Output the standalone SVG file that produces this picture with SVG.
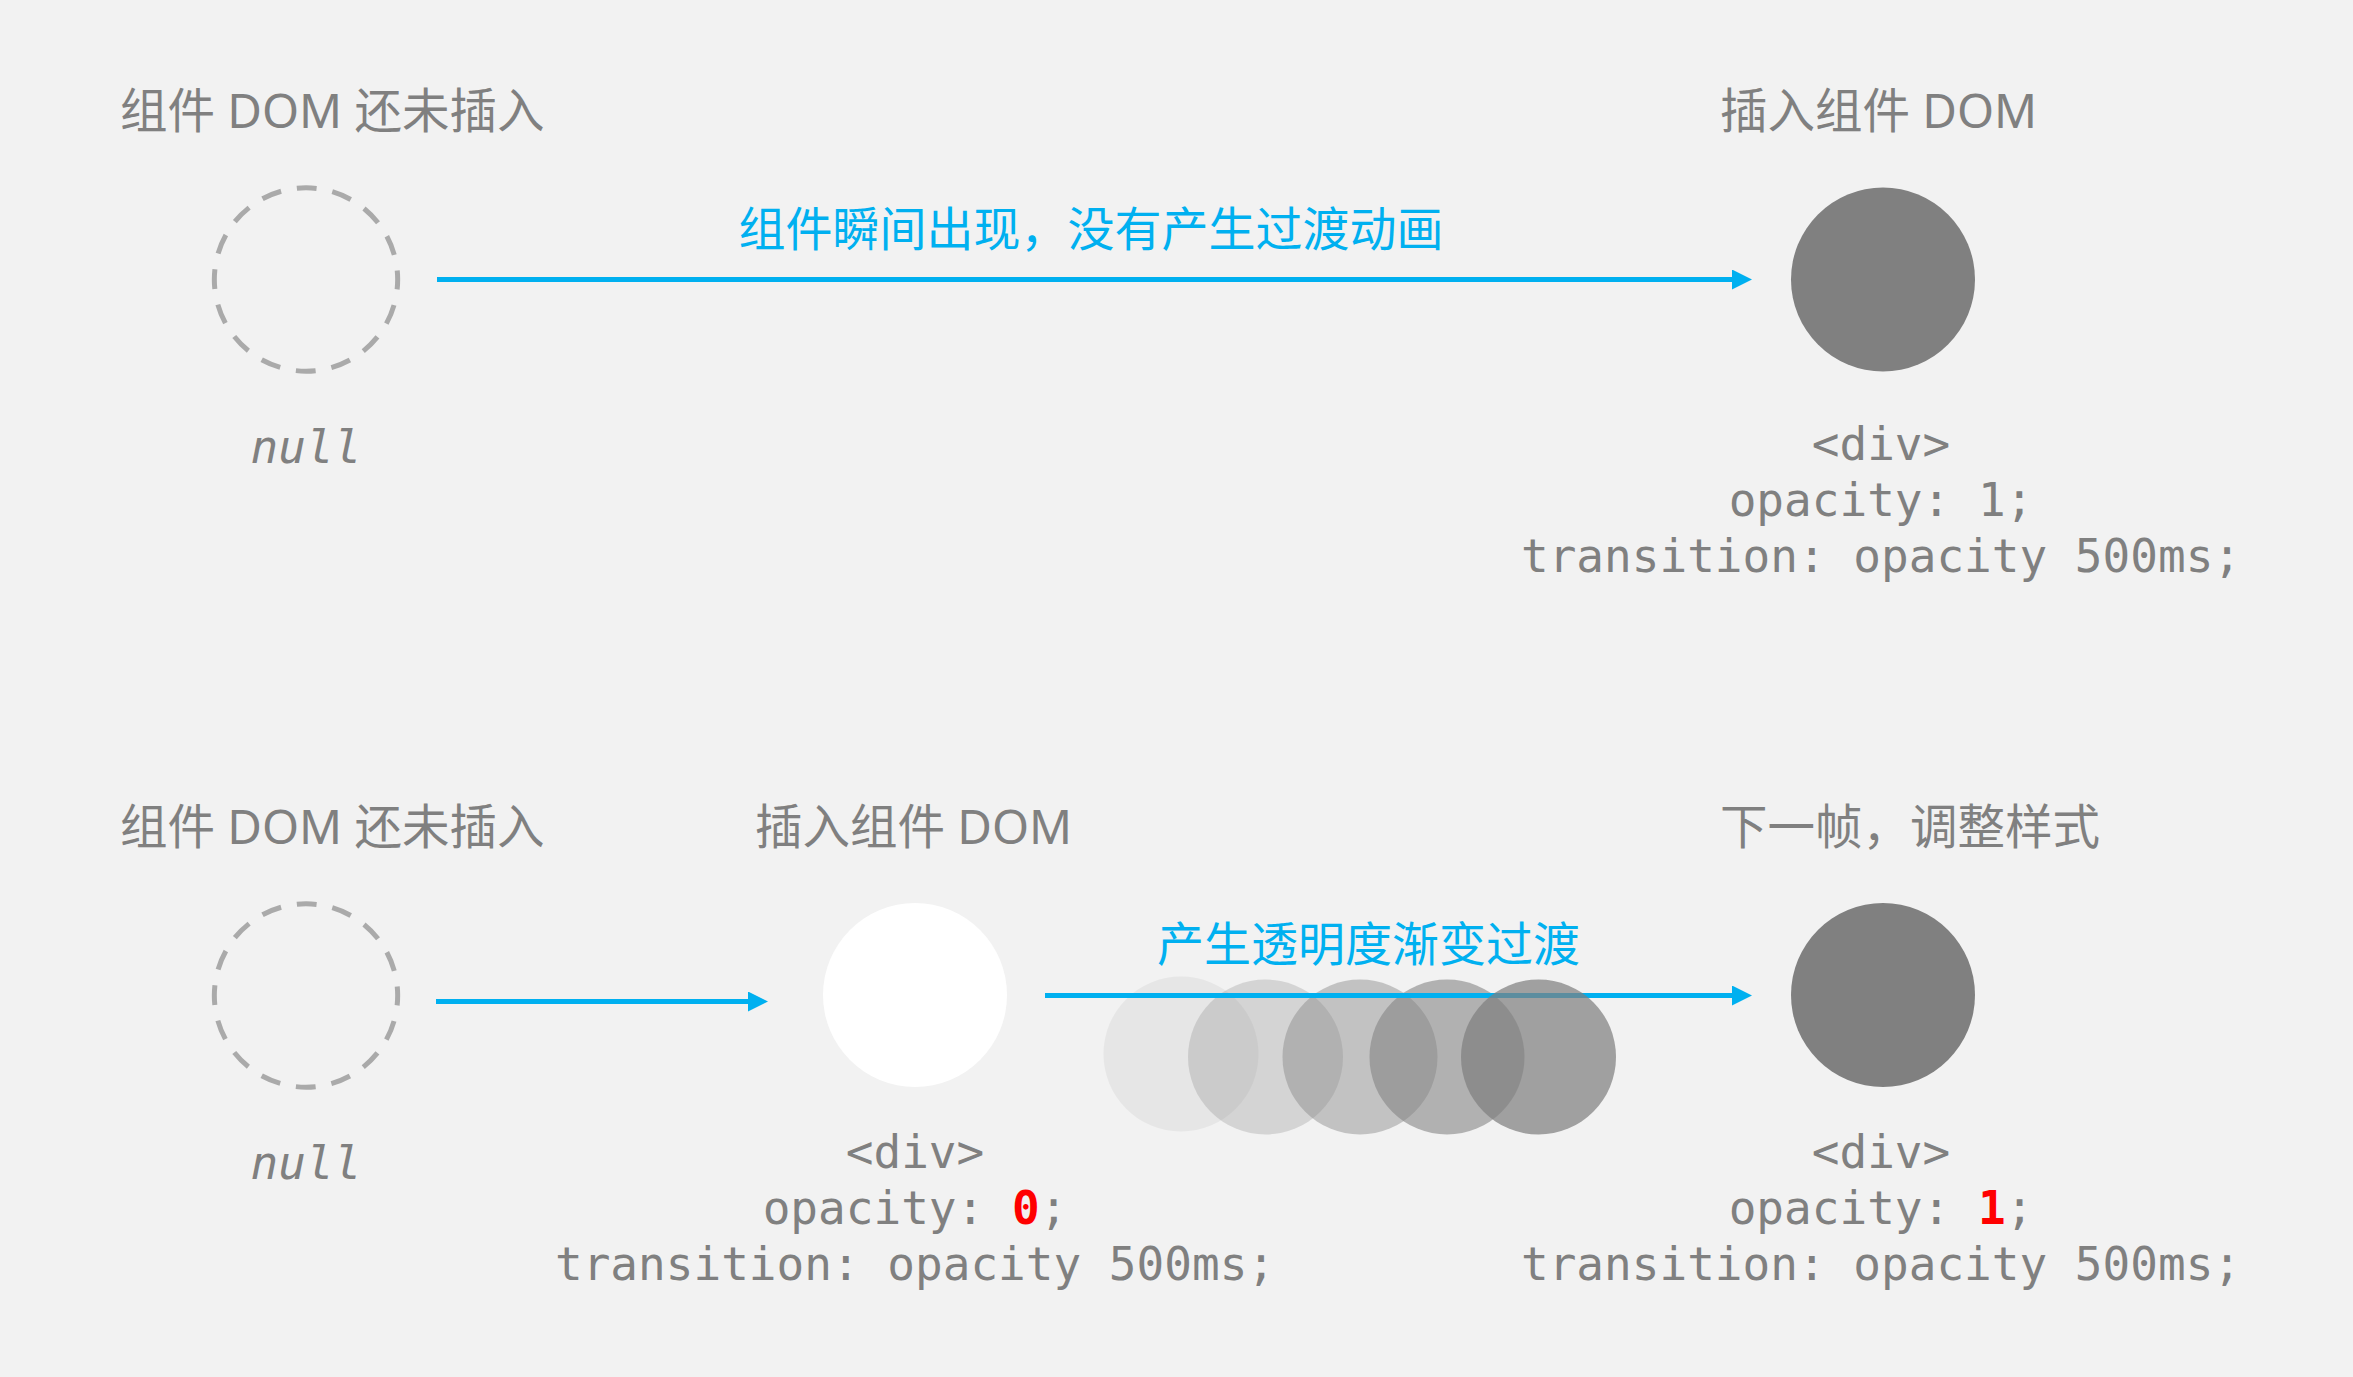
<svg xmlns="http://www.w3.org/2000/svg" width="2353" height="1377" viewBox="0 0 2353 1377">
<defs>
<style>
.title{font-family:"Noto Sans","Noto Sans CJK SC",sans-serif;font-size:47.5px;fill:#808080}
.label{font-family:"Noto Sans CJK SC","Noto Sans",sans-serif;font-size:47px;fill:#00b0f0;text-anchor:middle}
.code{font-family:"DejaVu Sans Mono","Liberation Mono",monospace;font-size:46px;fill:#808080;text-anchor:middle}
.null{font-family:"DejaVu Sans Mono","Liberation Mono",monospace;font-size:46px;font-style:italic;fill:#808080;text-anchor:middle}
.red{fill:#ff0000;font-weight:bold}
.dashed{fill:none;stroke:#aaaaaa;stroke-width:5;stroke-dasharray:20 16;stroke-dashoffset:10}
.solid{fill:#808080}
.fade{fill:#808080}
.conn{stroke:#00b0f0;stroke-width:5;fill:none}
</style>
<marker id="arrow" markerUnits="userSpaceOnUse" markerWidth="20" markerHeight="20" refX="0" refY="10" orient="auto" viewBox="0 0 20 20">
<path d="M0,0 L20,10 L0,20 z" fill="#00b0f0"/>
</marker>
</defs>
<rect width="2353" height="1377" fill="#f2f2f2"/>

<!-- Top row -->
<g id="top-null">
<text class="title" x="120" y="128">组件 DOM 还未插入</text>
<circle class="dashed" cx="306" cy="279.5" r="91.67"/>
<text class="null" x="306" y="463">null</text>
</g>
<g id="top-inserted">
<text class="title" x="1720" y="128">插入组件 DOM</text>
<circle class="solid" cx="1883" cy="279.5" r="92"/>
<text class="code" x="1881" y="460">&lt;div&gt;</text>
<text class="code" x="1881" y="516">opacity: 1;</text>
<text class="code" x="1881" y="572">transition: opacity 500ms;</text>
</g>

<!-- Bottom row -->
<g id="bottom-null">
<text class="title" x="120" y="844">组件 DOM 还未插入</text>
<circle class="dashed" cx="306" cy="995.5" r="91.67"/>
<text class="null" x="306" y="1179">null</text>
</g>
<g id="bottom-inserted">
<text class="title" x="755" y="844">插入组件 DOM</text>
<circle cx="915" cy="995" r="92" fill="#ffffff"/>
<text class="code" x="915" y="1168">&lt;div&gt;</text>
<text class="code" x="915" y="1224">opacity: <tspan class="red">0</tspan>;</text>
<text class="code" x="915" y="1280">transition: opacity 500ms;</text>
</g>
<g id="bottom-next-frame">
<text class="title" x="1720" y="844">下一帧，调整样式</text>
<circle class="solid" cx="1883" cy="995" r="92"/>
<text class="code" x="1881" y="1168">&lt;div&gt;</text>
<text class="code" x="1881" y="1224">opacity: <tspan class="red">1</tspan>;</text>
<text class="code" x="1881" y="1280">transition: opacity 500ms;</text>
</g>

<g id="fade-circles">
<circle class="fade" cx="1181" cy="1054" r="77.5" opacity="0.1"/>
<circle class="fade" cx="1265.5" cy="1057" r="77.5" opacity="0.26"/>
<circle class="fade" cx="1360" cy="1057" r="77.5" opacity="0.42"/>
<circle class="fade" cx="1447" cy="1057" r="77.5" opacity="0.57"/>
</g>

<g id="connectors">
<line class="conn" x1="437" y1="279.5" x2="1732" y2="279.5" marker-end="url(#arrow)"/>
<text class="label" x="1091" y="246">组件瞬间出现，没有产生过渡动画</text>
<line class="conn" x1="436" y1="1001.5" x2="748" y2="1001.5" marker-end="url(#arrow)"/>
<line class="conn" x1="1045" y1="995.5" x2="1732" y2="995.5" marker-end="url(#arrow)"/>
<text class="label" x="1368.5" y="961">产生透明度渐变过渡</text>
</g>

<g id="fade-circle-last">
<circle class="fade" cx="1538.5" cy="1057" r="77.5" opacity="0.72"/>
</g>
</svg>
